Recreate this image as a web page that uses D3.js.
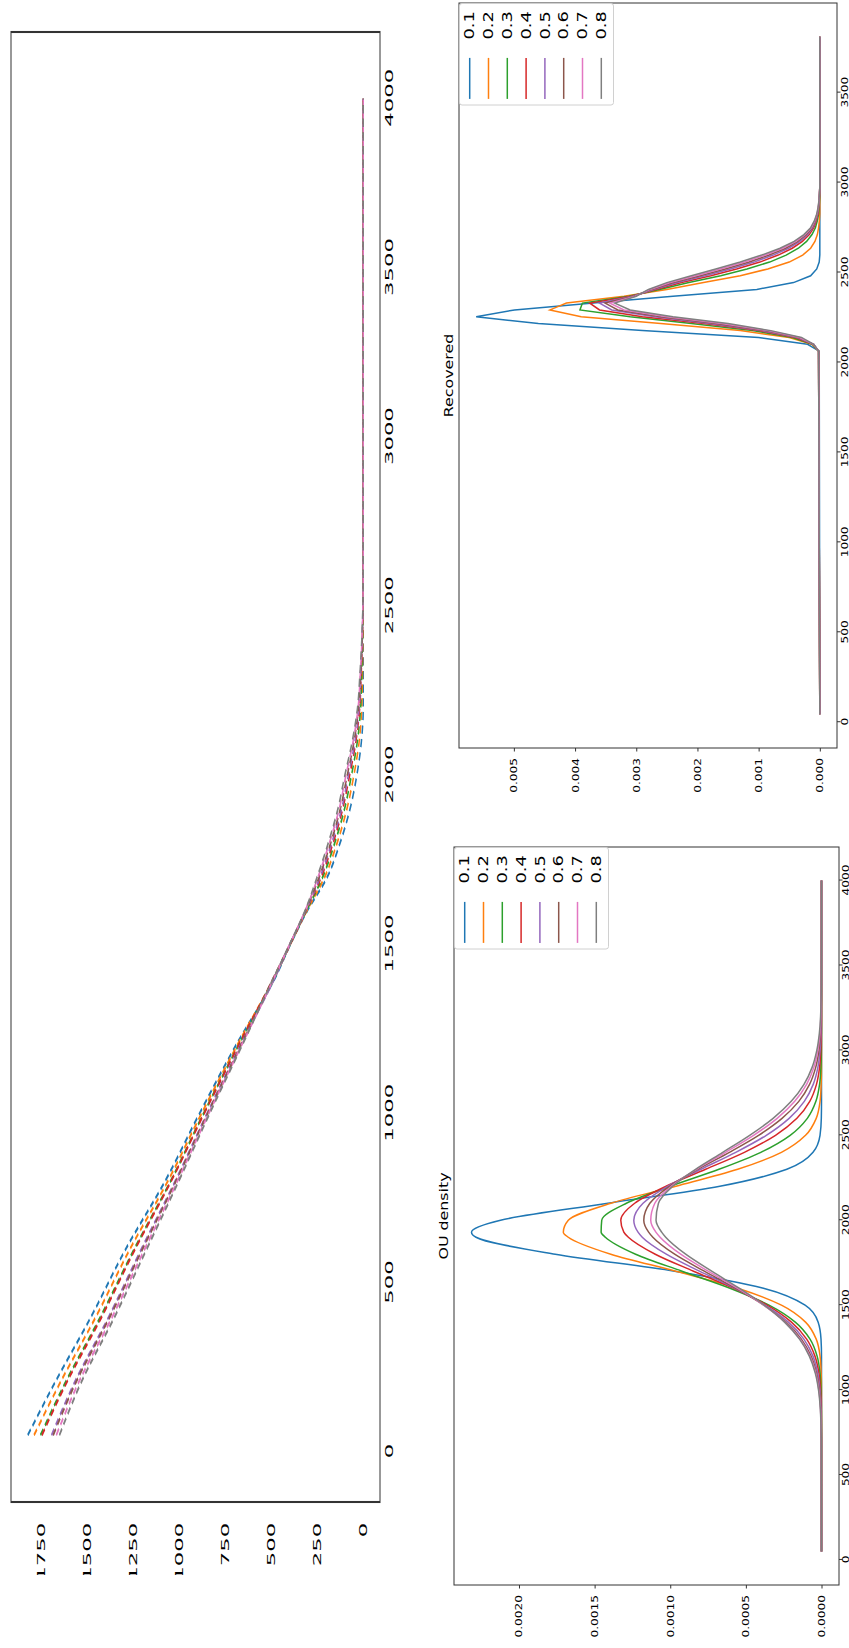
<!DOCTYPE html>
<html>
<head>
<meta charset="utf-8">
<script src="https://cdn.jsdelivr.net/npm/d3@7"></script>
<style>
  body { margin: 0; background: #fff; }
  svg { display: block; }
  text { font-family: "DejaVu Sans", sans-serif; fill: #000; }
</style>
</head>
<body>
<svg id="fig" width="849" height="1648"></svg>
<script>
// ---- series labels and colours ----
const seriesNames = ["0.1", "0.2", "0.3", "0.4", "0.5", "0.6", "0.7", "0.8"];
const seriesColors = ["#1f77b4", "#ff7f0e", "#2ca02c", "#d62728", "#9467bd", "#8c564b", "#e377c2", "#7f7f7f"];

// ---- top panel: remaining count per time ----
const countX = [50, 200, 400, 600, 800, 1000, 1200, 1400, 1500, 1600, 1700, 1800, 1900, 2000, 2100, 2200, 2300, 2400, 2500, 2600, 2800, 4000];
const count01 = [1822, 1680, 1478, 1290, 1077, 890, 694, 480, 396, 304, 195, 126, 72, 35, 10, 0, 0, 0, 0, 0, 0, 0];
const count02 = [1788, 1651, 1452, 1267, 1062, 879, 687, 486, 397, 307, 209, 142, 89, 51, 22, 8, 4, 2, 0, 0, 0, 0];
const count03 = [1753, 1623, 1427, 1244, 1047, 868, 680, 483, 398, 309, 220, 155, 102, 64, 32, 14, 8, 4, 1, 0, 0, 0];
const count04 = [1745, 1616, 1420, 1239, 1044, 865, 679, 487, 398, 311, 228, 164, 112, 74, 40, 19, 11, 5, 1, 0, 0, 0];
const count05 = [1693, 1573, 1382, 1205, 1022, 849, 669, 482, 399, 312, 234, 171, 118, 81, 45, 22, 13, 6, 1, 0, 0, 0];
const count06 = [1684, 1566, 1376, 1199, 1018, 846, 667, 489, 399, 314, 239, 177, 125, 87, 50, 25, 14, 6, 2, 0, 0, 0];
const count07 = [1667, 1551, 1363, 1187, 1010, 840, 663, 485, 400, 315, 245, 184, 131, 94, 55, 28, 16, 7, 2, 0, 0, 0];
const count08 = [1650, 1537, 1350, 1176, 1003, 835, 660, 488, 400, 316, 250, 190, 138, 100, 60, 31, 18, 8, 2, 0, 0, 0];
const countXTicks = [0, 500, 1000, 1500, 2000, 2500, 3000, 3500, 4000];
const countYTicks = [0, 250, 500, 750, 1000, 1250, 1500, 1750];

// ---- OU density ----
const ouX = [50, 700, 800, 900, 1000, 1100, 1200, 1300, 1400, 1500, 1600, 1700, 1800, 1900, 1930, 2000, 2100, 2200, 2300, 2400, 2500, 2600, 2700, 2800, 2900, 3000, 3100, 3200, 3400, 3700, 4000];
const ou01 = [0, 0, 0, 0, 0, 0, 0, 0.0000032, 0.000022, 0.0001085, 0.000384, 0.000971, 0.00176, 0.002284, 0.002314, 0.002122, 0.001412, 0.000672, 0.000229, 0.000056, 0.0000098, 0.0000012, 0, 0, 0, 0, 0, 0, 0, 0, 0];
const ou02 = [0, 0, 0, 0, 0, 0.0000022, 0.0000096, 0.0000349, 0.0001055, 0.000265, 0.000554, 0.000963, 0.001393, 0.001674, 0.001707, 0.001674, 0.001393, 0.000963, 0.000554, 0.000265, 0.0001055, 0.0000349, 0.0000096, 0.0000022, 0, 0, 0, 0, 0, 0, 0];
const ou03 = [0, 0, 0, 0.0000007, 0.0000028, 0.0000097, 0.000029, 0.0000759, 0.0001735, 0.000347, 0.000605, 0.000922, 0.001229, 0.001429, 0.001457, 0.001453, 0.00129, 0.001, 0.000678, 0.000401, 0.000207, 0.0000937, 0.000037, 0.0000127, 0.0000038, 0.000001, 0, 0, 0, 0, 0];
const ou04 = [0, 0, 0.0000005, 0.0000019, 0.0000061, 0.0000171, 0.0000433, 0.0000981, 0.0001986, 0.00036, 0.000583, 0.000846, 0.001099, 0.001277, 0.001307, 0.001327, 0.001235, 0.001028, 0.000766, 0.00051, 0.000304, 0.0001625, 0.0000776, 0.0000332, 0.0000127, 0.0000043, 0.0000013, 0, 0, 0, 0];
const ou05 = [0, 0.0000003, 0.0000012, 0.0000036, 0.0000099, 0.0000248, 0.0000565, 0.0001167, 0.000219, 0.000373, 0.000575, 0.000807, 0.001026, 0.001185, 0.001213, 0.001241, 0.00118, 0.001018, 0.000797, 0.000567, 0.000365, 0.000214, 0.0001136, 0.0000547, 0.0000239, 0.0000095, 0.0000034, 0.0000011, 0, 0, 0];
const ou06 = [0, 0.0000007, 0.0000021, 0.0000057, 0.0000142, 0.0000327, 0.0000689, 0.0001329, 0.000235, 0.000382, 0.000568, 0.000775, 0.000971, 0.001115, 0.001143, 0.001175, 0.001135, 0.001005, 0.000817, 0.000609, 0.000416, 0.000261, 0.0001499, 0.000079, 0.0000382, 0.0000169, 0.0000069, 0.0000026, 0.0000003, 0, 0];
const ou07 = [0, 0.000001, 0.0000029, 0.0000074, 0.0000174, 0.0000379, 0.0000761, 0.0001413, 0.000242, 0.000382, 0.000557, 0.00075, 0.000931, 0.001067, 0.001095, 0.001129, 0.001102, 0.000993, 0.000826, 0.000634, 0.000449, 0.000293, 0.0001769, 0.0000985, 0.0000506, 0.000024, 0.0000105, 0.0000042, 0.0000005, 0, 0];
const ou08 = [0, 0.0000013, 0.0000035, 0.0000086, 0.0000196, 0.0000412, 0.0000804, 0.0001454, 0.000244, 0.000378, 0.000544, 0.000726, 0.000898, 0.00103, 0.001057, 0.001094, 0.001078, 0.000984, 0.000833, 0.000653, 0.000475, 0.00032, 0.0002, 0.0001158, 0.0000621, 0.000031, 0.0000142, 0.0000061, 0.0000009, 0, 0];
const ouXTicks = [0, 500, 1000, 1500, 2000, 2500, 3000, 3500, 4000];
const ouYTicks = [0, 0.0005, 0.001, 0.0015, 0.002];

// ---- Recovered density ----
const recX = [45, 2063, 2101, 2139, 2177, 2216, 2254, 2292, 2330, 2368, 2406, 2444, 2482, 2520, 2558, 2597, 2635, 2673, 2711, 2749, 2787, 2825, 2863, 2901, 2939, 2977, 3810];
const rec01 = [0, 0.00001, 0.0002, 0.001, 0.0029, 0.0046, 0.005616, 0.00499, 0.0037, 0.0024, 0.00103, 0.00043, 0.00015, 0.00005, 0.00001, 0, 0, 0, 0, 0, 0, 0, 0, 0, 0, 0, 0];
const rec02 = [0, 0.00002, 0.00013, 0.0005, 0.0013, 0.0026, 0.0039, 0.00441, 0.00414, 0.0032, 0.0025, 0.0019, 0.0013, 0.00085, 0.0005, 0.00028, 0.00015, 0.00008, 0.00004, 0.00002, 0.000008, 0, 0, 0, 0, 0, 0];
const rec03 = [0, 0.00002, 0.00012, 0.00045, 0.0011, 0.0021, 0.0031, 0.00392, 0.00388, 0.00312, 0.00262, 0.00214, 0.00162, 0.00119, 0.00082, 0.00055, 0.00035, 0.000216, 0.000128, 0.000072, 0.000041, 0.00002, 0.000011, 0.000006, 0.000002, 0, 0];
const rec04 = [0, 0.00002, 0.00011, 0.0004, 0.001, 0.0019, 0.0029, 0.0036, 0.00376, 0.00308, 0.00268, 0.00226, 0.00178, 0.00136, 0.00098, 0.00068, 0.00045, 0.000284, 0.000172, 0.000098, 0.000057, 0.00003, 0.000017, 0.000008, 0.000004, 0, 0];
const rec05 = [0, 0.00002, 0.0001, 0.00037, 0.00095, 0.0018, 0.0027, 0.0034, 0.0036, 0.003056, 0.002716, 0.002332, 0.001876, 0.001462, 0.001076, 0.000762, 0.00051, 0.000325, 0.000198, 0.000114, 0.000067, 0.000036, 0.00002, 0.00001, 0.000004, 0, 0];
const rec06 = [0, 0.00002, 0.0001, 0.00035, 0.0009, 0.0017, 0.0026, 0.0033, 0.00351, 0.003036, 0.002746, 0.002392, 0.001956, 0.001547, 0.001156, 0.000829, 0.00056, 0.000359, 0.00022, 0.000127, 0.000075, 0.000041, 0.000023, 0.000011, 0.000005, 0, 0];
const rec07 = [0, 0.00002, 0.0001, 0.00033, 0.00085, 0.0016, 0.0025, 0.0032, 0.00343, 0.003018, 0.002773, 0.002446, 0.002028, 0.001624, 0.001228, 0.00089, 0.000605, 0.000389, 0.00024, 0.000138, 0.000083, 0.000046, 0.000025, 0.000013, 0.000005, 0, 0];
const rec08 = [0, 0.00002, 0.0001, 0.0003, 0.0008, 0.0015, 0.0024, 0.0031, 0.00335, 0.003, 0.0028, 0.0025, 0.0021, 0.0017, 0.0013, 0.00095, 0.00065, 0.00042, 0.00026, 0.00015, 0.00009, 0.00005, 0.000028, 0.000014, 0.000006, 0, 0];
const recXTicks = [0, 500, 1000, 1500, 2000, 2500, 3000, 3500];
const recYTicks = [0, 0.001, 0.002, 0.003, 0.004, 0.005];

// ---- helpers ----
const padded = (lo, hi) => { const m = (hi - lo) * 0.05; return [lo - m, hi + m]; };
const toPoints = (xs, ys) => xs.map((x, i) => [x, ys[i]]);
const intFmt = d3.format("d");

// The figure is laid out landscape (1648 x 849) and turned a quarter turn
// counter-clockwise to fit the portrait page.
const svg = d3.select("#fig");
const defs = svg.append("defs");
const fig = svg.append("g").attr("transform", "translate(0,1648) rotate(-90)");

// ================= top panel =================
{
  const box = { left: 146, right: 1616, top: 11, bottom: 380 };
  const stretch = 2.07;                       // panel is drawn wide-stretched
  const w = (box.right - box.left) / stretch;
  const h = box.bottom - box.top;
  const series = [count01, count02, count03, count04, count05, count06, count07, count08];

  defs.append("clipPath").attr("id", "topClip")
    .append("rect").attr("x", (73 - box.left) / stretch).attr("y", -20)
    .attr("width", w + 100).attr("height", h + 60);

  const g = fig.append("g")
    .attr("transform", `translate(${box.left},${box.top}) scale(${stretch},1)`)
    .attr("clip-path", "url(#topClip)");

  const x = d3.scaleLinear().domain(padded(d3.min(countX), d3.max(countX))).range([0, w]);
  const y = d3.scaleLinear().domain(padded(0, d3.max(series.flat()))).range([h, 0]);

  const line = d3.line().x(d => x(d[0])).y(d => y(d[1])).curve(d3.curveMonotoneX);
  series.forEach((s, i) => {
    g.append("path").attr("d", line(toPoints(countX, s)))
      .attr("fill", "none").attr("stroke", seriesColors[i])
      .attr("stroke-width", 1.5).attr("stroke-dasharray", "4 2.6");
  });

  const xa = g.append("g").attr("transform", `translate(0,${h})`)
    .call(d3.axisBottom(x).tickValues(countXTicks).tickFormat(intFmt).tickSize(0).tickPadding(5));
  const ya = g.append("g")
    .call(d3.axisLeft(y).tickValues(countYTicks).tickFormat(intFmt).tickSize(0).tickPadding(10));
  [xa, ya].forEach(a => {
    a.select(".domain").remove();
    a.selectAll("text").attr("font-size", 11).attr("font-family", "DejaVu Sans").attr("fill", "#222");
  });

  g.append("rect").attr("x", 0).attr("y", 0).attr("width", w).attr("height", h)
    .attr("fill", "none").attr("stroke", "#333").attr("stroke-width", 1);
}

// ================= lower panels =================
const textStretch = 1.32;

function densityPanel(opts) {
  const { box, xs, series, xTicks, yTicks, yFmt, title, xExtent } = opts;
  const g = fig.append("g");
  const x = d3.scaleLinear().domain(padded(xExtent[0], xExtent[1])).range([box.left, box.right]);
  const y = d3.scaleLinear().domain(padded(0, d3.max(series.flat()))).range([box.bottom, box.top]);

  const line = d3.line().x(d => x(d[0])).y(d => y(d[1])).curve(opts.curve);
  series.forEach((s, i) => {
    g.append("path").attr("d", line(toPoints(xs, s)))
      .attr("fill", "none").attr("stroke", seriesColors[i])
      .attr("stroke-width", 1.5).attr("stroke-linejoin", "miter");
  });

  const xa = g.append("g").attr("transform", `translate(0,${box.bottom})`)
    .call(d3.axisBottom(x).tickValues(xTicks).tickFormat(intFmt).tickSize(3.5).tickPadding(opts.xPad));
  const ya = g.append("g").attr("transform", `translate(${box.left},0)`)
    .call(d3.axisLeft(y).tickValues(yTicks).tickFormat(yFmt).tickSize(3.5).tickPadding(4.1));
  [xa, ya].forEach(a => {
    a.select(".domain").remove();
    a.selectAll("line").attr("stroke", "#333");
    a.selectAll("text").attr("font-size", 9.2).attr("font-family", "DejaVu Sans")
      .attr("fill", "#222").attr("transform", `scale(${textStretch},1)`);
  });

  g.append("rect").attr("x", box.left).attr("y", box.top)
    .attr("width", box.right - box.left).attr("height", box.bottom - box.top)
    .attr("fill", "none").attr("stroke", "#333").attr("stroke-width", 1);

  g.append("text")
    .attr("transform", `translate(${(box.left + box.right) / 2},${box.top - opts.titleGap}) scale(${textStretch},1)`)
    .attr("text-anchor", "middle").attr("font-size", 12).text(title);

  // legend in the upper-right corner
  const lw = 102.5, lh = 154;
  const lg = g.append("g").attr("transform", `translate(${box.right - lw},${box.top})`);
  lg.append("rect").attr("x", 0.5).attr("y", 0.5).attr("width", lw - 1).attr("height", lh)
    .attr("rx", 2.5).attr("fill", "#fff").attr("fill-opacity", 0.8)
    .attr("stroke", "#d0d0d0").attr("stroke-width", 1);
  seriesNames.forEach((name, i) => {
    const cy = 10.7 + i * 18.8;
    lg.append("line").attr("x1", 6.6).attr("x2", 47.6).attr("y1", cy).attr("y2", cy)
      .attr("stroke", seriesColors[i]).attr("stroke-width", 1.5);
    lg.append("text")
      .attr("transform", `translate(66,${cy}) scale(${textStretch},1)`)
      .attr("dominant-baseline", "central").attr("font-size", 13.5).text(name);
  });
}

densityPanel({
  box: { left: 63, right: 801, top: 454, bottom: 839 },
  xs: ouX, xExtent: [d3.min(ouX), d3.max(ouX)],
  series: [ou01, ou02, ou03, ou04, ou05, ou06, ou07, ou08],
  xTicks: ouXTicks, yTicks: ouYTicks, yFmt: d3.format(".4f"), xPad: -0.5,
  title: "OU density", titleGap: 6, curve: d3.curveMonotoneX
});

densityPanel({
  box: { left: 900, right: 1645, top: 459, bottom: 837 },
  xs: recX, xExtent: [d3.min(recX), d3.max(recX)],
  series: [rec01, rec02, rec03, rec04, rec05, rec06, rec07, rec08],
  xTicks: recXTicks, yTicks: recYTicks, yFmt: d3.format(".3f"), xPad: 1,
  title: "Recovered", titleGap: 6, curve: d3.curveLinear
});
</script>
</body>
</html>
